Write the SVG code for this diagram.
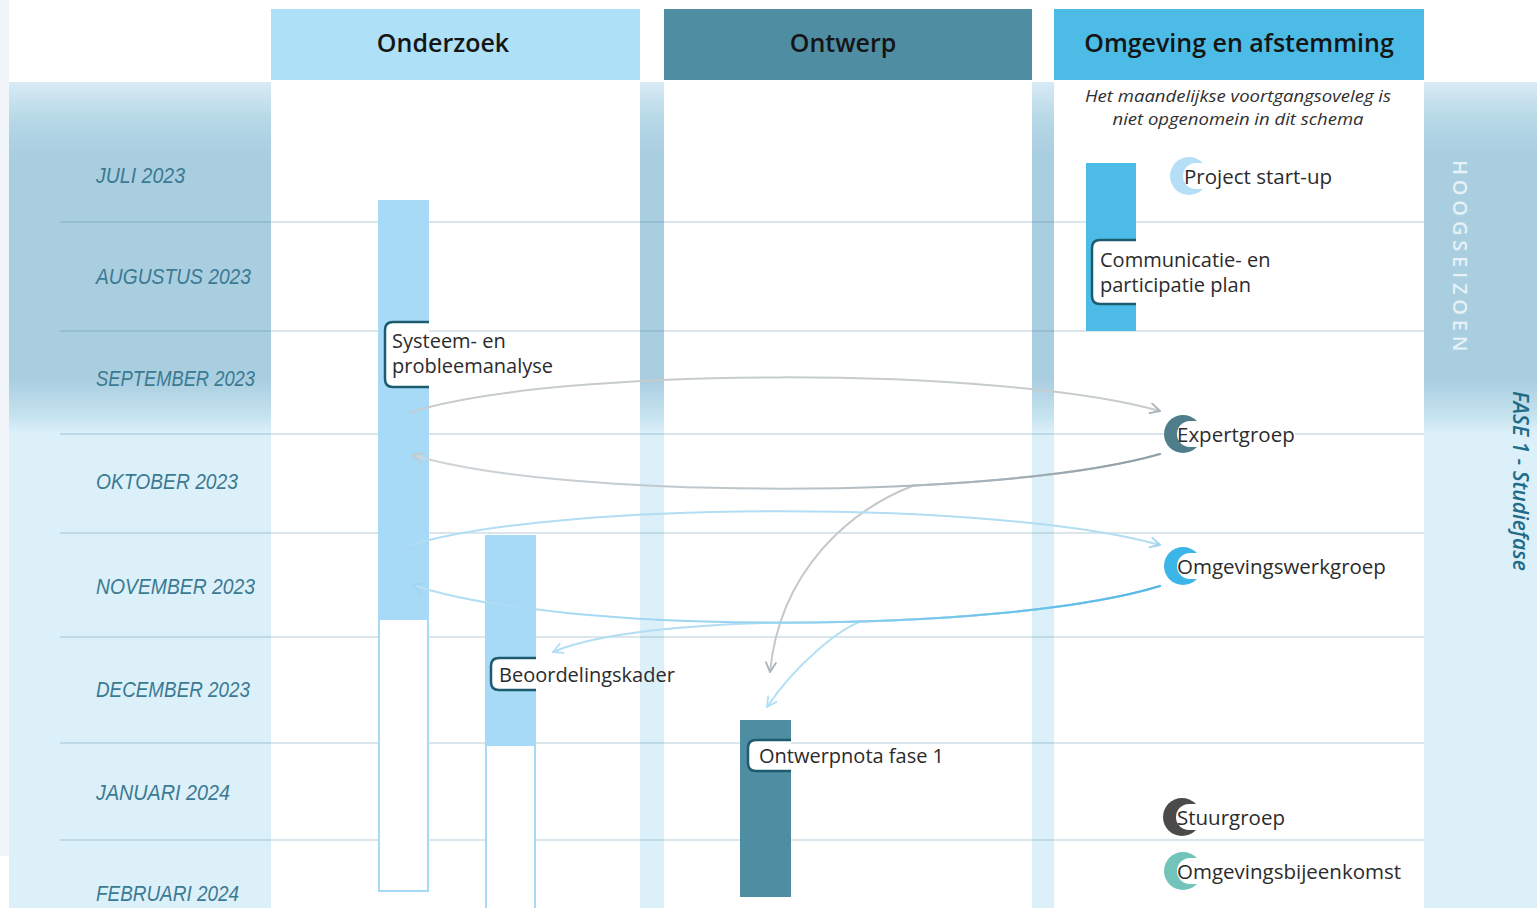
<svg xmlns="http://www.w3.org/2000/svg" width="1537" height="908" viewBox="0 0 1537 908">
  <defs>
    <!-- vertical band shading: deeper blue for the high-season months, pale below -->
    <linearGradient id="bandFill" gradientUnits="userSpaceOnUse" x1="0" y1="82" x2="0" y2="908">
      <stop offset="0" stop-color="#d8ebf5"/>
      <stop offset="0.045" stop-color="#b6d8e7"/>
      <stop offset="0.09" stop-color="#a9cee0"/>
      <stop offset="0.36" stop-color="#a9cee0"/>
      <stop offset="0.405" stop-color="#c6e3f0"/>
      <stop offset="0.425" stop-color="#dcf0fa"/>
      <stop offset="1" stop-color="#dcf0fa"/>
    </linearGradient>
    <linearGradient id="gGray" gradientUnits="userSpaceOnUse" x1="1160" y1="0" x2="413" y2="0">
      <stop offset="0" stop-color="#8e9fa8"/>
      <stop offset="0.45" stop-color="#b8c2c7"/>
      <stop offset="1" stop-color="#d0d5d8"/>
    </linearGradient>
    <linearGradient id="gBlue" gradientUnits="userSpaceOnUse" x1="1160" y1="0" x2="413" y2="0">
      <stop offset="0" stop-color="#52b7e6"/>
      <stop offset="0.45" stop-color="#8fd0ef"/>
      <stop offset="1" stop-color="#b6e0f5"/>
    </linearGradient>
    <marker id="mGray" viewBox="0 0 12 12" refX="11" refY="6" markerWidth="12" markerHeight="12" markerUnits="userSpaceOnUse" orient="auto">
      <path d="M1.5,1 L11,6 L1.5,11" fill="none" stroke="#aab3b8" stroke-width="1.8" stroke-linecap="round" stroke-linejoin="round"/>
    </marker>
    <marker id="mGrayLight" viewBox="0 0 12 12" refX="11" refY="6" markerWidth="12" markerHeight="12" markerUnits="userSpaceOnUse" orient="auto">
      <path d="M1.5,1 L11,6 L1.5,11" fill="none" stroke="#c3c9cc" stroke-width="1.8" stroke-linecap="round" stroke-linejoin="round"/>
    </marker>
    <marker id="mBlue" viewBox="0 0 12 12" refX="11" refY="6" markerWidth="12" markerHeight="12" markerUnits="userSpaceOnUse" orient="auto">
      <path d="M1.5,1 L11,6 L1.5,11" fill="none" stroke="#9fd5ef" stroke-width="1.8" stroke-linecap="round" stroke-linejoin="round"/>
    </marker>
    <marker id="mBlueLight" viewBox="0 0 12 12" refX="11" refY="6" markerWidth="12" markerHeight="12" markerUnits="userSpaceOnUse" orient="auto">
      <path d="M1.5,1 L11,6 L1.5,11" fill="none" stroke="#b3def4" stroke-width="1.8" stroke-linecap="round" stroke-linejoin="round"/>
    </marker>
    <style>
      .band { fill: url(#bandFill); }
      .hdr { font-family: "Open Sans", "Noto Sans", sans-serif; font-weight: 600; font-size: 25px; fill: #151515; text-anchor: middle; }
      .month { font-family: "Liberation Sans", Arial, sans-serif; font-style: italic; font-size: 22px; fill: #3b7a92; }
      .lbl { font-family: "Open Sans", "Noto Sans", sans-serif; font-size: 20px; fill: #2b2b2b; }
      .mtg { font-family: "Open Sans", "Noto Sans", sans-serif; font-size: 20.5px; fill: #2b2b2b; }
      .note { font-family: "Open Sans", "Noto Sans", sans-serif; font-style: italic; font-size: 16.5px; fill: #2f2f2f; text-anchor: middle; }
      .grid { stroke: #4f86a6; stroke-opacity: 0.28; stroke-width: 1.5; }
      .tag { fill: #ffffff; stroke: #1d5b6f; stroke-width: 2.5; }
      .barLight { fill: #a6daf7; }
      .barOpen { fill: #ffffff; stroke: #a6daf7; stroke-width: 2; }
      .conn { fill: none; stroke-width: 2; stroke-linecap: round; }
      .pad { fill: #ffffff; }
    </style>
  </defs>

  <!-- canvas -->
  <rect x="0" y="0" width="1537" height="908" fill="#ffffff"/>
  <rect x="0" y="0" width="9" height="856" fill="#f1f5fa"/>

  <!-- shaded bands: month column, column separators, phase column -->
  <g id="bands">
    <rect class="band" x="9" y="82" width="262" height="826"/>
    <rect class="band" x="640" y="82" width="24" height="826"/>
    <rect class="band" x="1032" y="82" width="22" height="826"/>
    <rect class="band" x="1424" y="82" width="113" height="826"/>
  </g>

  <!-- column headers -->
  <g id="hdr-onderzoek">
    <rect x="271" y="9" width="369" height="71" fill="#aee0f7"/>
    <text class="hdr" x="443" y="52">Onderzoek</text>
  </g>
  <g id="hdr-ontwerp">
    <rect x="664" y="9" width="368" height="71" fill="#4e8da2"/>
    <text class="hdr" x="843" y="52">Ontwerp</text>
  </g>
  <g id="hdr-omgeving">
    <rect x="1054" y="9" width="370" height="71" fill="#4cbce7"/>
    <text class="hdr" x="1239" y="52">Omgeving en afstemming</text>
  </g>

  <!-- month separators -->
  <g id="grid">
    <line class="grid" x1="60" y1="222" x2="1424" y2="222"/>
    <line class="grid" x1="60" y1="331" x2="1424" y2="331"/>
    <line class="grid" x1="60" y1="434" x2="1424" y2="434"/>
    <line class="grid" x1="60" y1="533" x2="1424" y2="533"/>
    <line class="grid" x1="60" y1="637" x2="1424" y2="637"/>
    <line class="grid" x1="60" y1="743" x2="1424" y2="743"/>
    <line class="grid" x1="60" y1="840" x2="1424" y2="840"/>
  </g>

  <!-- months -->
  <g id="months">
    <text class="month" x="96" y="183" textLength="89" lengthAdjust="spacingAndGlyphs">JULI 2023</text>
    <text class="month" x="96" y="284" textLength="155" lengthAdjust="spacingAndGlyphs">AUGUSTUS 2023</text>
    <text class="month" x="96" y="386" textLength="159" lengthAdjust="spacingAndGlyphs">SEPTEMBER 2023</text>
    <text class="month" x="96" y="489" textLength="142" lengthAdjust="spacingAndGlyphs">OKTOBER 2023</text>
    <text class="month" x="96" y="594" textLength="159" lengthAdjust="spacingAndGlyphs">NOVEMBER 2023</text>
    <text class="month" x="96" y="697" textLength="154" lengthAdjust="spacingAndGlyphs" fill="#2a6880">DECEMBER 2023</text>
    <text class="month" x="96" y="800" textLength="134" lengthAdjust="spacingAndGlyphs">JANUARI 2024</text>
    <text class="month" x="96" y="901" textLength="143" lengthAdjust="spacingAndGlyphs">FEBRUARI 2024</text>
  </g>

  <!-- side labels -->
  <g id="phase-labels">
    <text transform="translate(1453,160) rotate(90)" font-family="'Open Sans', 'Noto Sans', sans-serif" font-weight="600" font-size="20" letter-spacing="4.8" fill="#e6f2f7">HOOGSEIZOEN</text>
    <text transform="translate(1513,391) rotate(90)" font-family="'Open Sans', 'Noto Sans', sans-serif" font-style="italic" font-weight="600" font-size="21" fill="#1f6c88">FASE 1 - Studiefase</text>
  </g>

  <!-- note -->
  <g id="note">
    <text class="note" x="1238" y="102" textLength="306" lengthAdjust="spacingAndGlyphs">Het maandelijkse voortgangsoveleg is</text>
    <text class="note" x="1238" y="125" textLength="251" lengthAdjust="spacingAndGlyphs">niet opgenomein in dit schema</text>
  </g>

  <!-- activity bars -->
  <g id="n-systeemanalyse">
    <rect class="barOpen" x="379" y="619" width="49" height="272"/>
    <rect class="barLight" x="378" y="200" width="51" height="419"/>
    <path class="tag" d="M429,322 H393 Q385,322 385,330 V379 Q385,387 393,387 H429"/>
    <text class="lbl" x="392" y="348">Systeem- en</text>
    <text class="lbl" x="392" y="373">probleemanalyse</text>
  </g>

  <g id="n-beoordelingskader">
    <rect class="barOpen" x="486" y="745" width="49" height="170"/>
    <rect class="barLight" x="485" y="535" width="51" height="210"/>
    <path class="tag" d="M536,658 H499 Q491,658 491,666 V682 Q491,690 499,690 H536"/>
    <text class="lbl" x="499" y="682">Beoordelingskader</text>
  </g>

  <g id="n-communicatieplan">
    <rect x="1086" y="163" width="50" height="168" fill="#4cbce7"/>
    <path class="tag" d="M1136,240 H1100 Q1092,240 1092,248 V296 Q1092,304 1100,304 H1136"/>
    <text class="lbl" x="1100" y="267">Communicatie- en</text>
    <text class="lbl" x="1100" y="292">participatie plan</text>
  </g>

  <g id="n-ontwerpnota">
    <rect x="740" y="720" width="51" height="177" fill="#4e8da2"/>
    <path class="tag" d="M791,740 H756 Q748,740 748,748 V763 Q748,771 756,771 H791"/>
    <text class="lbl" x="759" y="763">Ontwerpnota fase 1</text>
  </g>

  <!-- meetings: coloured disc, cut out by the white label pad -->
  <g id="n-projectstartup">
    <circle cx="1189" cy="176" r="19" fill="#b6dff6"/>
    <circle class="pad" cx="1196" cy="176" r="13"/>
    <rect class="pad" x="1196" y="163" width="138" height="26"/>
    <text class="mtg" x="1184" y="184">Project start-up</text>
  </g>
  <g id="n-expertgroep">
    <circle cx="1183" cy="434" r="19" fill="#4f7d8c"/>
    <circle class="pad" cx="1190" cy="434" r="13"/>
    <rect class="pad" x="1190" y="421" width="105" height="26"/>
    <text class="mtg" x="1177" y="442">Expertgroep</text>
  </g>
  <g id="n-omgevingswerkgroep">
    <circle cx="1183" cy="566" r="19" fill="#3cb5e8"/>
    <circle class="pad" cx="1190" cy="566" r="13"/>
    <rect class="pad" x="1190" y="553" width="198" height="26"/>
    <text class="mtg" x="1177" y="574">Omgevingswerkgroep</text>
  </g>
  <g id="n-stuurgroep">
    <circle cx="1182" cy="817" r="19" fill="#4a4a4a"/>
    <circle class="pad" cx="1189" cy="817" r="13"/>
    <rect class="pad" x="1189" y="804" width="96" height="26"/>
    <text class="mtg" x="1177" y="825">Stuurgroep</text>
  </g>
  <g id="n-omgevingsbijeenkomst">
    <circle cx="1183" cy="871" r="19" fill="#72c4bb"/>
    <circle class="pad" cx="1190" cy="871" r="13"/>
    <rect class="pad" x="1190" y="858" width="212" height="26"/>
    <text class="mtg" x="1177" y="879">Omgevingsbijeenkomst</text>
  </g>

  <!-- connectors -->
  <g id="connectors">
    <!-- branches first, so the main curves sit on top where they share a path -->
    <path class="conn" stroke="#c3c8cb" marker-end="url(#mGray)" d="M1160,454 C1104,470.1 1013.7,480.6 913.6,485.5 C850,510 780,570 770,672"/>
    <path class="conn" stroke="#b5dff4" marker-end="url(#mBlueLight)" d="M1160,586 C1094.4,606.1 981.7,617.9 861.5,621.5 C840,628 795,665 767,707"/>
    <path class="conn" stroke="#b2ddf3" marker-end="url(#mBlueLight)" d="M1160,586 C1080,610.5 930,622.75 781.6,622.6 C700,624 600,632 553,652"/>
    <path class="conn" stroke="#c6cbce" marker-end="url(#mGray)" d="M411,412 C560,366 1000,366 1160,411"/>
    <path class="conn" stroke="url(#gGray)" marker-end="url(#mGrayLight)" d="M1160,454 C1000,500 560,500 413,455"/>
    <path class="conn" stroke="#b2ddf3" marker-end="url(#mBlue)" d="M411,545 C560,500 1000,500 1160,545"/>
    <path class="conn" stroke="url(#gBlue)" marker-end="url(#mBlue)" d="M1160,586 C1000,635 560,635 413,585"/>
  </g>
</svg>
